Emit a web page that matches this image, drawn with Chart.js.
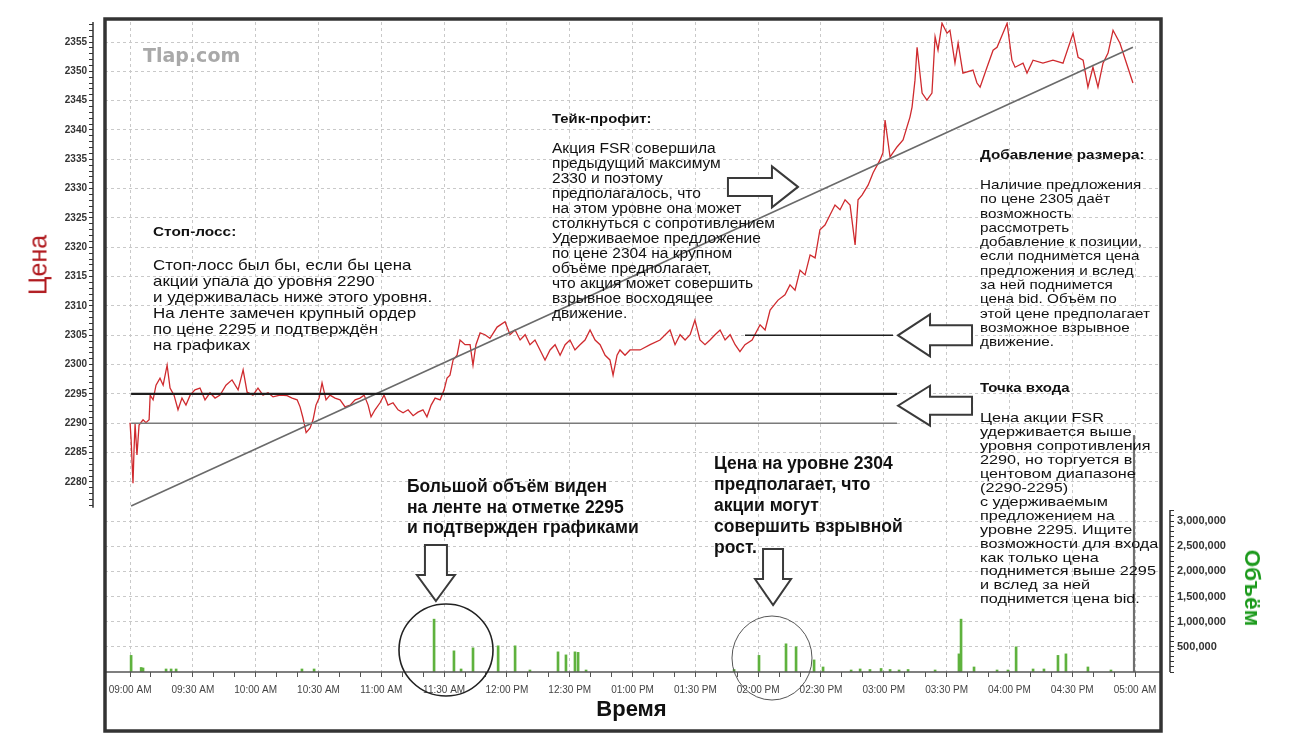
<!DOCTYPE html>
<html lang="ru">
<head>
<meta charset="utf-8">
<title>FSR – цена и объём</title>
<script src="https://cdn.jsdelivr.net/npm/chart.js@4"></script>
<style>
body { margin: 0; background: #fff; }
#wrap { position: relative; width: 1290px; height: 736px; overflow: hidden; font-family: "Liberation Sans", Arial, sans-serif; color: #111; }
#chart { position: absolute; left: 0; top: 0; }
.note { position: absolute; white-space: nowrap; transform-origin: 0 0; }
.head { font-weight: bold; font-size: 13.5px; line-height: 16px; }
.big { font-weight: bold; font-size: 17.5px; }
.mark { font-family: "DejaVu Sans", sans-serif; font-weight: bold; font-size: 19px; color: #a9a9a9; }
.axis-price { transform: translate(-50%, -50%) rotate(-90deg); transform-origin: 50% 50%; color: #b0191e; font-size: 25px; }
.axis-vol { transform: translate(-50%, -50%) rotate(90deg); transform-origin: 50% 50%; color: #1c9a1c; font-size: 22.5px; font-weight: bold; }
</style>
</head>
<body>
<div id="wrap">
<canvas id="chart" width="1290" height="736"></canvas>

<div class="note mark" style="left:143px;top:44px">Tlap.com</div>
<div class="note axis-price" style="left:38px;top:265px">Цена</div>
<div class="note axis-vol" style="left:1252px;top:588px">Объём</div>

<div class="note head" style="left:153px;top:224px;transform:scaleX(1.14)">Стоп-лосс:</div>
<div class="note" style="left:153px;top:257px;font-size:14.5px;line-height:16px;transform:scaleX(1.165)">Стоп-лосс был бы, если бы цена<br>акции упала до уровня 2290<br>и удерживалась ниже этого уровня.<br>На ленте замечен крупный ордер<br>по цене 2295 и подтверждён<br>на графиках</div>

<div class="note head" style="left:552px;top:111px;transform:scaleX(1.1)">Тейк-профит:</div>
<div class="note" style="left:552px;top:140.5px;font-size:14px;line-height:15px;transform:scaleX(1.11)">Акция FSR совершила<br>предыдущий максимум<br>2330 и поэтому<br>предполагалось, что<br>на этом уровне она может<br>столкнуться с сопротивлением<br>Удерживаемое предложение<br>по цене 2304 на крупном<br>объёме предполагает,<br>что акция может совершить<br>взрывное восходящее<br>движение.</div>

<div class="note head" style="left:980px;top:147px;transform:scaleX(1.13)">Добавление размера:</div>
<div class="note" style="left:980px;top:178px;font-size:13.5px;line-height:14.3px;transform:scaleX(1.13)">Наличие предложения<br>по цене 2305 даёт<br>возможность<br>рассмотреть<br>добавление к позиции,<br>если поднимется цена<br>предложения и вслед<br>за ней поднимется<br>цена bid. Объём по<br>этой цене предполагает<br>возможное взрывное<br>движение.</div>

<div class="note head" style="left:980px;top:380px;transform:scaleX(1.11)">Точка входа</div>
<div class="note" style="left:980px;top:411px;font-size:13.5px;line-height:13.95px;transform:scaleX(1.2)">Цена акции FSR<br>удерживается выше<br>уровня сопротивления<br>2290, но торгуется в<br>центовом диапазоне<br>(2290-2295)<br>с удерживаемым<br>предложением на<br>уровне 2295. Ищите<br>возможности для входа<br>как только цена<br>поднимется выше 2295<br>и вслед за ней<br>поднимется цена bid.</div>

<div class="note big" style="left:407px;top:476px;line-height:20.5px">Большой объём виден<br>на ленте на отметке 2295<br>и подтвержден графиками</div>
<div class="note big" style="left:714px;top:452.5px;line-height:21px">Цена на уровне 2304<br>предполагает, что<br>акции могут<br>совершить взрывной<br>рост.</div>
</div>

<script>
// price trace: minutes after midnight / price
const priceTimes = [
  540.0, 540.5, 541.4, 541.9, 542.4, 543.3, 544.3, 546.2, 547.6, 549.1,
  549.6, 551.0, 552.4, 554.3, 555.8, 557.7, 559.1, 561.0, 562.9, 564.8,
  566.7, 568.7, 571.0, 573.4, 575.8, 578.2, 580.6, 583.0, 585.8, 588.7,
  591.6, 594.0, 595.9, 598.7, 601.1, 603.5, 605.9, 608.3, 611.6, 615.0,
  617.4, 619.8, 621.2, 622.6, 624.1, 626.0, 627.4, 628.8, 630.3, 631.7,
  633.6, 635.5, 637.9, 640.3, 642.7, 645.1, 647.5, 649.8, 651.8, 653.7,
  655.1, 657.0, 659.4, 661.3, 663.2, 665.6, 668.0, 670.4, 672.8, 675.2,
  677.5, 679.9, 681.8, 683.8, 685.7, 688.1, 690.0, 691.4, 692.8, 694.3,
  696.2, 697.6, 700.0, 702.4, 703.8, 705.2, 707.2, 709.5, 711.9, 715.3,
  719.1, 721.5, 723.9, 726.3, 728.7, 731.0, 733.4, 735.8, 738.2, 740.6,
  743.0, 745.4, 747.8, 750.1, 752.5, 754.9, 757.3, 759.7, 762.1, 764.5,
  766.9, 769.2, 770.7, 772.6, 774.0, 776.4, 778.8, 783.6, 788.4, 793.1,
  797.9, 800.3, 802.7, 805.1, 807.5, 809.8, 812.2, 814.6, 817.0, 819.4,
  821.8, 824.2, 826.6, 829.0, 831.3, 833.7, 837.1, 840.9, 843.3, 845.7,
  849.5, 852.8, 855.2, 857.6, 860.0, 862.4, 864.8, 867.2, 869.5, 871.9,
  874.3, 876.7, 879.1, 881.5, 883.9, 886.3, 887.7, 889.6, 892.5, 894.9,
  898.2, 899.6, 900.6, 903.0, 906.3, 909.2, 912.5, 913.5, 914.9, 915.9,
  918.3, 920.6, 923.0, 924.5, 925.9, 927.8, 930.2, 931.6, 934.0, 935.5,
  937.8, 942.6, 944.5, 946.0, 949.3, 952.2, 954.1, 956.9, 958.9, 961.2,
  962.7, 966.5, 968.4, 971.3, 976.0, 980.8, 985.6, 990.4, 992.8, 995.2,
  997.5, 999.9, 1002.3, 1004.7, 1007.1, 1009.5, 1012.8, 1019.0
];
const priceValues = [
  2290.1, 2287.2, 2279.8, 2285.5, 2289.9, 2284.6, 2289.7, 2290.6, 2290.1, 2290.6,
  2294.8, 2294.0, 2296.5, 2297.7, 2296.5, 2299.9, 2296.0, 2294.8, 2292.3, 2294.3,
  2293.1, 2294.8, 2295.7, 2296.0, 2294.0, 2295.2, 2294.3, 2294.8, 2296.5, 2297.4,
  2295.7, 2299.1, 2295.3, 2294.8, 2296.0, 2294.8, 2295.2, 2294.5, 2294.8, 2294.7,
  2294.3, 2294.0, 2292.8, 2290.9, 2288.4, 2289.2, 2290.6, 2293.1, 2294.3, 2296.9,
  2294.0, 2294.8, 2294.3, 2294.0, 2292.8, 2293.1, 2294.0, 2294.3, 2294.8, 2293.1,
  2291.1, 2292.3, 2293.5, 2294.8, 2293.1, 2293.5, 2292.3, 2291.8, 2292.3, 2291.3,
  2291.9, 2292.3, 2291.1, 2293.1, 2294.3, 2294.0, 2295.7, 2297.7, 2298.2, 2300.8,
  2301.6, 2304.2, 2303.4, 2303.4, 2299.9, 2303.4, 2305.4, 2305.1, 2304.5, 2306.4,
  2307.3, 2305.1, 2305.9, 2304.2, 2305.1, 2303.4, 2304.2, 2302.5, 2300.8, 2302.5,
  2303.4, 2301.6, 2303.4, 2304.2, 2302.5, 2303.4, 2304.2, 2305.9, 2304.2, 2303.4,
  2301.6, 2300.8, 2298.2, 2301.6, 2302.5, 2301.6, 2302.5, 2302.5, 2303.4, 2304.2,
  2305.9, 2303.4, 2305.1, 2304.2, 2305.1, 2307.6, 2304.2, 2303.4, 2304.2, 2305.1,
  2305.9, 2304.2, 2305.1, 2303.4, 2302.2, 2303.4, 2304.2, 2306.8, 2305.9, 2309.3,
  2311.0, 2311.9, 2313.6, 2312.7, 2316.1, 2315.3, 2318.7, 2318.2, 2323.0, 2323.8,
  2325.5, 2327.2, 2326.4, 2328.1, 2327.2, 2320.4, 2328.1, 2328.9, 2330.6, 2332.7,
  2334.9, 2336.1, 2341.7, 2335.4, 2337.1, 2338.3, 2342.2, 2343.9, 2348.5, 2354.1,
  2346.3, 2345.1, 2346.3, 2355.9, 2353.6, 2358.2, 2356.5, 2357.0, 2351.4, 2354.8,
  2349.7, 2350.2, 2348.0, 2347.3, 2350.7, 2353.6, 2354.1, 2356.5, 2358.2, 2351.9,
  2350.7, 2351.4, 2349.7, 2351.9, 2351.4, 2351.9, 2351.4, 2356.5, 2352.4, 2351.9,
  2347.3, 2350.7, 2347.3, 2351.4, 2353.1, 2357.0, 2354.8, 2348.0
];

// volume bars
const volumeTimes = [
  540.5, 545.3, 546.2, 557.2, 559.6, 562.0, 622.1, 627.9, 685.2, 694.7,
  698.1, 703.8, 715.8, 723.9, 731.0, 744.4, 748.2, 752.5, 754.0, 757.8,
  828.5, 840.4, 853.3, 858.1, 866.7, 871.0, 884.4, 888.7, 893.4, 898.7,
  903.0, 907.3, 911.6, 924.5, 935.9, 936.9, 943.1, 954.1, 959.3, 963.2,
  971.3, 976.5, 983.2, 987.0, 997.5, 1008.5
];
const volumeValues = [
  330000, 90000, 80000, 60000, 60000, 60000, 60000, 60000, 1050000, 420000,
  60000, 480000, 520000, 520000, 40000, 400000, 340000, 400000, 390000, 40000,
  50000, 330000, 560000, 500000, 240000, 100000, 40000, 60000, 50000, 70000,
  50000, 40000, 50000, 40000, 360000, 1050000, 100000, 40000, 40000, 500000,
  60000, 60000, 330000, 360000, 100000, 40000
];
const closeTimes = [1019.5];
const closeVolumes = [4700000];

// drawn levels and trend
const levelPrices = [2295, 2290, 2305];
const levelStarts = [540.5, 540.5, 833.7];
const levelEnds = [906.3, 906.3, 904.4];
const trendTimes = [540.5, 1019.0];
const trendPrices = [2275.9, 2354.1];

// tick labels
const timeTickLabels = ['09:00 AM', '09:30 AM', '10:00 AM', '10:30 AM', '11:00 AM', '11:30 AM',
  '12:00 PM', '12:30 PM', '01:00 PM', '01:30 PM', '02:00 PM', '02:30 PM', '03:00 PM',
  '03:30 PM', '04:00 PM', '04:30 PM', '05:00 AM'];
const priceTickLabels = [2280, 2285, 2290, 2295, 2300, 2305, 2310, 2315, 2320, 2325,
  2330, 2335, 2340, 2345, 2350, 2355];
const volumeTickLabels = [500000, 1000000, 1500000, 2000000, 2500000, 3000000];

const FONT = '"Liberation Sans", Arial, sans-serif';
const GRID = '#c9c9c9';
const frameBox = { left: 105, top: 19, right: 1161, bottom: 731 };

const pts = (xs, ys) => xs.map((x, i) => ({ x: x, y: ys[i] }));

function blockArrow(ctx, x, y, angle, s) {
  ctx.save();
  ctx.translate(x, y);
  ctx.rotate(angle);
  const hb = -s.head;
  ctx.beginPath();
  ctx.moveTo(0, 0);
  ctx.lineTo(hb, -s.headHalf);
  ctx.lineTo(hb, -s.shaftHalf);
  ctx.lineTo(hb - s.shaft, -s.shaftHalf);
  ctx.lineTo(hb - s.shaft, s.shaftHalf);
  ctx.lineTo(hb, s.shaftHalf);
  ctx.lineTo(hb, s.headHalf);
  ctx.closePath();
  ctx.fillStyle = '#fff';
  ctx.fill();
  ctx.lineWidth = 2;
  ctx.strokeStyle = '#3a3a3a';
  ctx.stroke();
  ctx.restore();
}

const decor = {
  id: 'decor',
  beforeDatasetsDraw(chart) {
    // grid only inside the frame
    const { ctx, chartArea: a } = chart;
    ctx.save();
    ctx.fillStyle = '#fff';
    ctx.fillRect(a.left, a.top - 2, frameBox.left - a.left, a.bottom - a.top + 1);
    ctx.fillRect(frameBox.right, a.top - 2, a.right - frameBox.right, a.bottom - a.top + 1);
    ctx.restore();
  },
  afterDraw(chart) {
    const { ctx, chartArea: a } = chart;
    const sx = chart.scales.x, sy = chart.scales.y, sv = chart.scales.v;
    ctx.save();
    ctx.strokeStyle = '#333';
    ctx.lineWidth = 1.5;
    ctx.beginPath();
    ctx.moveTo(a.left, sy.getPixelForValue(2358.4));
    ctx.lineTo(a.left, sy.getPixelForValue(2275.6));
    ctx.moveTo(a.right, sv.getPixelForValue(3220000));
    ctx.lineTo(a.right, sv.getPixelForValue(0));
    ctx.stroke();
    ctx.strokeStyle = '#555';
    ctx.beginPath();
    ctx.moveTo(frameBox.left, a.bottom);
    ctx.lineTo(frameBox.right, a.bottom);
    ctx.stroke();

    ctx.strokeStyle = '#333';
    ctx.lineWidth = 3.5;
    ctx.strokeRect(frameBox.left, frameBox.top, frameBox.right - frameBox.left, frameBox.bottom - frameBox.top);

    blockArrow(ctx, sx.getPixelForValue(859), sy.getPixelForValue(2330.3), 0,
      { head: 26, headHalf: 20.5, shaftHalf: 9, shaft: 44 });
    blockArrow(ctx, sx.getPixelForValue(906.8), sy.getPixelForValue(2305), Math.PI,
      { head: 32, headHalf: 21, shaftHalf: 10, shaft: 42 });
    blockArrow(ctx, sx.getPixelForValue(906.8), sy.getPixelForValue(2293), Math.PI,
      { head: 32, headHalf: 20, shaftHalf: 9, shaft: 42 });
    blockArrow(ctx, sx.getPixelForValue(686.1), sv.getPixelForValue(1410000), Math.PI / 2,
      { head: 26, headHalf: 19, shaftHalf: 11, shaft: 30 });
    blockArrow(ctx, sx.getPixelForValue(847.1), sv.getPixelForValue(1330000), Math.PI / 2,
      { head: 26, headHalf: 18, shaftHalf: 10, shaft: 30 });

    ctx.strokeStyle = '#222';
    ctx.lineWidth = 1.6;
    ctx.beginPath();
    ctx.ellipse(sx.getPixelForValue(690.9), sv.getPixelForValue(437000), 47, 46, 0, 0, Math.PI * 2);
    ctx.stroke();
    ctx.strokeStyle = '#555';
    ctx.lineWidth = 1;
    ctx.beginPath();
    ctx.ellipse(sx.getPixelForValue(846.6), sv.getPixelForValue(278000), 40, 42, 0, 0, Math.PI * 2);
    ctx.stroke();
    ctx.restore();
  }
};

const levelSets = levelPrices.map((p, i) => ({
  type: 'line',
  data: [{ x: levelStarts[i], y: p }, { x: levelEnds[i], y: p }],
  borderColor: i === 1 ? '#7a7a7a' : '#1e1e1e',
  borderWidth: i === 0 ? 2.2 : 1.6,
  pointRadius: 0,
  yAxisID: 'y',
  order: 1
}));

new Chart(document.getElementById('chart'), {
  type: 'line',
  data: {
    datasets: [
      {
        type: 'line',
        data: pts(priceTimes, priceValues),
        borderColor: '#cf2a2e',
        borderWidth: 1.3,
        pointRadius: 0,
        tension: 0,
        yAxisID: 'y',
        order: 5
      },
      {
        type: 'line',
        data: pts(trendTimes, trendPrices),
        borderColor: '#6a6a6a',
        borderWidth: 1.6,
        pointRadius: 0,
        yAxisID: 'y',
        order: 2
      },
      ...levelSets,
      {
        type: 'bar',
        data: pts(volumeTimes, volumeValues),
        backgroundColor: '#5fb23e',
        barThickness: 2,
        grouped: false,
        yAxisID: 'v',
        order: 6
      },
      {
        type: 'bar',
        data: pts(closeTimes, closeVolumes),
        backgroundColor: '#6f6f6f',
        barThickness: 1.5,
        grouped: false,
        yAxisID: 'v',
        order: 6
      }
    ]
  },
  options: {
    responsive: false,
    animation: false,
    devicePixelRatio: 1,
    events: [],
    layout: { padding: { left: 0, right: 0, top: 22, bottom: 0 } },
    plugins: { legend: { display: false }, tooltip: { enabled: false } },
    scales: {
      x: {
        type: 'linear',
        position: 'bottom',
        min: 522.3,
        max: 1036.7,
        bounds: 'data',
        offset: false,
        afterBuildTicks: s => {
          const t = [];
          for (let m = 540; m <= 1020; m += 10) t.push({ value: m });
          s.ticks = t;
        },
        afterFit: s => { s.height = 64; },
        ticks: {
          autoSkip: false, maxRotation: 0, minRotation: 0, padding: 7,
          color: '#444', font: { family: FONT, size: 10 },
          callback: v => {
            const i = (v - 540) / 30;
            return Number.isInteger(i) ? timeTickLabels[i] : '';
          }
        },
        grid: {
          color: c => (c.tick && (c.tick.value - 540) % 30 === 0) ? GRID : 'rgba(0,0,0,0)',
          tickColor: '#555', tickLength: 5, offset: false
        },
        border: { display: false, dash: [3, 3] },
        title: {
          display: true, text: 'Время', color: '#111',
          font: { family: FONT, size: 22, weight: 'bold' },
          padding: { top: 0, bottom: 13 }
        }
      },
      y: {
        type: 'linear',
        position: 'left',
        min: 2247.6,
        max: 2358.41,
        bounds: 'data',
        afterBuildTicks: s => {
          const t = [];
          for (let p = 2276; p <= 2358; p++) t.push({ value: p });
          s.ticks = t;
        },
        afterFit: s => { s.width = 93; },
        ticks: {
          autoSkip: false, padding: 2, color: '#333',
          font: { family: FONT, size: 10, weight: 'bold' },
          callback: v => priceTickLabels.includes(v) ? String(v) : ''
        },
        grid: {
          color: c => (c.tick && priceTickLabels.includes(c.tick.value)) ? GRID : 'rgba(0,0,0,0)',
          tickColor: '#333', tickLength: 4
        },
        border: { display: false, dash: [3, 3] }
      },
      v: {
        type: 'linear',
        position: 'right',
        min: 0,
        max: 12914000,
        bounds: 'data',
        afterBuildTicks: s => {
          const t = [];
          for (let q = 0; q <= 3200000; q += 100000) t.push({ value: q });
          s.ticks = t;
        },
        afterFit: s => { s.width = 120; },
        ticks: {
          autoSkip: false, padding: 3, color: '#333',
          font: { family: FONT, size: 11, weight: 'bold' },
          callback: v => volumeTickLabels.includes(v) ? v.toLocaleString('en-US') : ''
        },
        grid: {
          color: c => (c.tick && volumeTickLabels.includes(c.tick.value)) ? GRID : 'rgba(0,0,0,0)',
          tickColor: '#333', tickLength: 4
        },
        border: { display: false, dash: [3, 3] }
      }
    }
  },
  plugins: [decor]
});
</script>
</body>
</html>
